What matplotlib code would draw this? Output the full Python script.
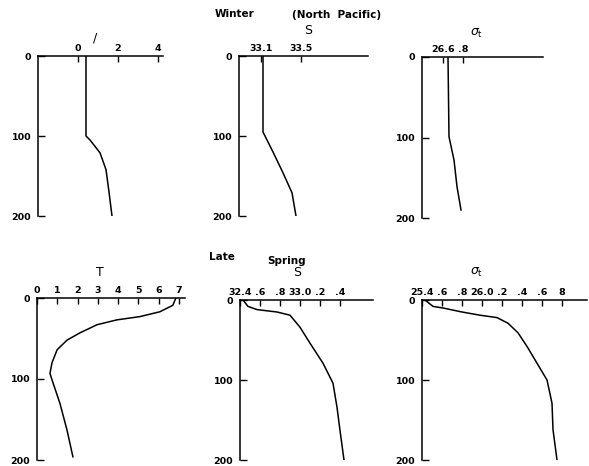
import matplotlib
matplotlib.use("Agg")
import matplotlib.pyplot as plt

# Winter (North Pacific) profiles, depth in m
winter_T_depth = [0, 100, 105, 121, 142, 170, 200]
winter_T = [0.4, 0.4, 0.6, 1.1, 1.4, 1.55, 1.7]
winter_S_depth = [0, 95, 120, 146, 171, 200]
winter_S = [33.12, 33.12, 33.22, 33.32, 33.41, 33.45]
winter_sig_depth = [0, 99, 128, 161, 190]
winter_sig = [26.65, 26.66, 26.71, 26.74, 26.78]

# Late spring profiles
spring_T_depth = [0, 9, 17, 23, 27, 33, 43, 52, 64, 80, 93, 101, 130, 163, 196]
spring_T = [6.85, 6.7, 6.06, 5.07, 3.94, 2.96, 2.12, 1.48, 0.99, 0.74, 0.64, 0.74, 1.13, 1.48, 1.77]
spring_S_depth = [0, 8, 12, 15, 19, 34, 54, 79, 104, 134, 163, 200]
spring_S = [32.43, 32.48, 32.57, 32.77, 32.9, 33.0, 33.1, 33.23, 33.33, 33.37, 33.4, 33.44]
spring_sig_depth = [0, 8, 10, 15, 19, 22, 29, 41, 58, 79, 100, 129, 162, 200]
spring_sig = [25.43, 25.51, 25.61, 25.8, 25.98, 26.15, 26.26, 26.36, 26.45, 26.55, 26.65, 26.7, 26.71, 26.75]

depth_ticks = [0, 100, 200]
depth_labels = ["0", "100", "200"]

W, H = 589, 466
fig = plt.figure(figsize=(W / 100, H / 100), dpi=100)

FS = 6.8


def panel(px, xlim, xs, ys, ticks, labels, title, title_xy):
    # px = (left, top, right, bottom) in pixels
    l, t, r, b = px
    ax = fig.add_axes([l / W, 1 - b / H, (r - l) / W, (b - t) / H])
    ax.plot(xs, ys, color="black", lw=1.1)
    ax.set_xlim(*xlim)
    ax.set_ylim(200, 0)
    for s in ["right", "bottom"]:
        ax.spines[s].set_visible(False)
    for s in ["left", "top"]:
        ax.spines[s].set_linewidth(1.1)
    ax.xaxis.tick_top()
    ax.set_xticks(ticks)
    ax.set_xticklabels(labels, fontsize=FS, fontweight="bold")
    ax.set_yticks(depth_ticks)
    ax.set_yticklabels(depth_labels, fontsize=FS, fontweight="bold")
    ax.tick_params(axis="x", direction="in", length=4, width=1, pad=2)
    ax.tick_params(axis="y", direction="in", length=5, width=1, pad=5)
    ax.patch.set_visible(False)
    fig.text(title_xy[0] / W, 1 - title_xy[1] / H, title, fontsize=9,
             ha="center", va="center")
    return ax


panel((38, 56, 163, 216), (-2, 4.25), winter_T, winter_T_depth,
      [0, 2, 4], ["0", "2", "4"], "/", (95, 38))
panel((239, 56, 368, 216), (32.88, 34.17), winter_S, winter_S_depth,
      [33.1, 33.5], ["33.1", "33.5"], "S", (308, 31))
panel((422, 57, 543, 218), (26.39, 27.6), winter_sig, winter_sig_depth,
      [26.6, 26.8], ["26.6", ".8"], r"$\sigma_{\rm t}$", (477, 33))

panel((37, 298, 185, 460), (0, 7.3), spring_T, spring_T_depth,
      list(range(8)), [str(i) for i in range(8)], "T", (100, 273))
panel((240, 300, 373, 460), (32.4, 33.73), spring_S, spring_S_depth,
      [32.4, 32.6, 32.8, 33.0, 33.2, 33.4],
      ["32.4", ".6", ".8", "33.0", ".2", ".4"], "S", (297, 272))
panel((422, 300, 587, 460), (25.4, 27.05), spring_sig, spring_sig_depth,
      [25.4, 25.6, 25.8, 26.0, 26.2, 26.4, 26.6, 26.8],
      ["25.4", ".6", ".8", "26.0", ".2", ".4", ".6", "8"],
      r"$\sigma_{\rm t}$", (477, 272))

fig.text(235 / W, 1 - 14 / H, "Winter", fontsize=7.5, fontweight="bold",
         ha="center", va="center")
fig.text(337 / W, 1 - 15 / H, "(North  Pacific)", fontsize=7.5,
         fontweight="bold", ha="center", va="center")
fig.text(222 / W, 1 - 257 / H, "Late", fontsize=7.5, fontweight="bold",
         ha="center", va="center")
fig.text(287 / W, 1 - 261 / H, "Spring", fontsize=7.5, fontweight="bold",
         ha="center", va="center")

fig.savefig("out.png", dpi=100)
